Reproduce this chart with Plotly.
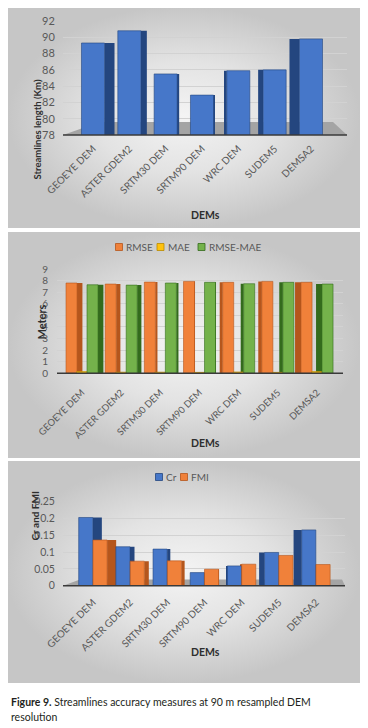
import plotly.graph_objects as go

# ---------------- data ----------------
categories = ["GEOEYE DEM", "ASTER GDEM2", "SRTM30 DEM", "SRTM90 DEM",
              "WRC DEM", "SUDEM5", "DEMSA2"]

streamlines_length_km = [89.3, 90.8, 85.5, 82.9, 85.9, 86.0, 89.8]

rmse = [7.79, 7.70, 7.87, 7.93, 7.85, 7.93, 7.85]
mae = [0.15, 0.10, 0.10, 0.08, 0.12, 0.08, 0.15]
rmse_minus_mae = [7.64, 7.61, 7.79, 7.85, 7.73, 7.85, 7.70]

cr = [0.203, 0.116, 0.109, 0.039, 0.059, 0.099, 0.166]
fmi = [0.136, 0.073, 0.074, 0.049, 0.064, 0.090, 0.063]

p1_yticks = [78, 80, 82, 84, 86, 88, 90, 92]
p2_yticks = [0, 1, 2, 3, 4, 5, 6, 7, 8, 9]
p3_yticks = [0, 0.05, 0.1, 0.15, 0.2, 0.25]
p3_yticktext = ["0", "0.05", "0.1", "0.15", "0.2", "0.25"]

# ---------------- layout helpers ----------------
W, H = 368, 728
OFF = 8  # page body margin: the figure starts 8px right/down of the page corner
FONT = "Lato"
TICK_COLOR = "#595959"
TITLE_COLOR = "#2e2e2e"


def px(x):
    """page pixel x -> paper fraction"""
    return (x - OFF) / W


def py(y):
    """page pixel y -> paper fraction"""
    return 1 - (y - OFF) / H


# pixel geometry (page coordinates) of each panel's plotting area
panels = {
    2: dict(x0=63, x1=347, c0=93, step=36.33, ytop=21, ybot=135, yr=[78, 92]),
    3: dict(x0=57, x1=343, c0=82, step=39.17, ytop=269, ybot=373.3, yr=[0, 9]),
    4: dict(x0=63, x1=345, c0=93, step=37.17, ytop=501.7, ybot=585.7, yr=[0, 0.25]),
}

# perspective of the 3-D side faces per category (+ = right face, - = left face)
persp = {
    2: [1.0, 0.6, 0.2, 0.05, -0.2, -0.5, -1.0],
    3: [0.9, 0.7, 0.35, 0.0, -0.5, -0.6, -1.0],
    4: [1.0, 0.5, 0.35, 0.0, -0.1, -0.6, -0.9],
}

fig = go.Figure()

# ---------------- panel backgrounds (gradient) on a hidden full-page axis ----------------
bg_boxes = [(8, 6, 360, 228), (8, 232, 360, 458), (6, 461, 360, 683)]
for (x0, y0, x1, y1) in bg_boxes:
    fig.add_trace(go.Scatter(
        x=[x0, x1, x1, x0, x0], y=[y0, y0, y1, y1, y0],
        mode="lines", line=dict(width=0), fill="toself",
        fillgradient=dict(type="radial",
                          colorscale=[[0, "#f4f4f4"], [0.5, "#e3e3e3"], [1, "#c6c6c6"]]),
        xaxis="x", yaxis="y", hoverinfo="skip", showlegend=False))


def add_series(panel, values, offset, width, side_max, front, side, name, part):
    ax = "x%d" % panel
    ay = "y%d" % panel
    if part == "side":
        offs, wids = [], []
        for p in persp[panel]:
            w = abs(p) * side_max
            offs.append(offset + width if p >= 0 else offset - w)
            wids.append(max(w, 0.0005))
        fig.add_trace(go.Bar(
            x=categories, y=values, xaxis=ax, yaxis=ay, offset=offs, width=wids,
            marker=dict(color=side, line=dict(width=0)), showlegend=False,
            hoverinfo="skip", name=name + " side"))
    else:
        fig.add_trace(go.Bar(
            x=categories, y=values, xaxis=ax, yaxis=ay, name=name,
            offset=[offset] * len(categories), width=[width] * len(categories),
            marker=dict(color=front, line=dict(width=0.6, color=side)),
            showlegend=False))


BLUE, BLUE_D = "#4677c9", "#24467f"
ORANGE, ORANGE_D = "#f0813a", "#b5561c"
YELLOW, YELLOW_D = "#ffc20e", "#b98a00"
GREEN, GREEN_D = "#74b24b", "#336b1c"

# panel 1
for part in ("side", "front"):
    add_series(2, streamlines_length_km, -0.317, 0.634, 0.275, BLUE, BLUE_D,
               "Streamlines length", part)

# panel 2
p2_series = [(rmse, -0.408, ORANGE, ORANGE_D, "RMSE"),
             (mae, -0.14, YELLOW, YELLOW_D, "MAE"),
             (rmse_minus_mae, 0.128, GREEN, GREEN_D, "RMSE-MAE")]
for part in ("side", "front"):
    for vals, off, c, cd, n in p2_series:
        add_series(3, vals, off, 0.281, 0.153, c, cd, n, part)

# panel 3
p3_series = [(cr, -0.385, BLUE, BLUE_D, "Cr"),
             (fmi, 0.0, ORANGE, ORANGE_D, "FMI")]
for part in ("side", "front"):
    for vals, off, c, cd, n in p3_series:
        add_series(4, vals, off, 0.38, 0.243, c, cd, n, part)

# ---------------- axes ----------------
layout = dict(
    width=W, height=H, autosize=False,
    margin=dict(l=0, r=0, t=0, b=0, pad=0),
    paper_bgcolor="white", plot_bgcolor="rgba(0,0,0,0)",
    barmode="overlay", showlegend=False,
    font=dict(family=FONT, color=TICK_COLOR),
    xaxis=dict(domain=[0, 1], range=[OFF, OFF + W], visible=False, fixedrange=True),
    yaxis=dict(domain=[0, 1], range=[OFF + H, OFF], visible=False, fixedrange=True),
)

ytick_cfg = {
    2: dict(tickvals=p1_yticks, ticktext=[str(v) for v in p1_yticks], size=11, len=5),
    3: dict(tickvals=p2_yticks, ticktext=[str(v) for v in p2_yticks], size=10, len=6),
    4: dict(tickvals=p3_yticks, ticktext=p3_yticktext, size=10.5, len=5),
}
xtick_len = {2: 3, 3: 9, 4: 6}
xtick_size = {2: 10, 3: 9.5, 4: 10}

for k, s in panels.items():
    xr = [(s["x0"] - s["c0"]) / s["step"], (s["x1"] - s["c0"]) / s["step"]]
    layout["xaxis%d" % k] = dict(
        domain=[px(s["x0"]), px(s["x1"])], anchor="y%d" % k, range=xr,
        type="category", showgrid=False, zeroline=False, showline=False,
        ticks="outside", ticklen=xtick_len[k], tickcolor="rgba(0,0,0,0)",
        tickangle=-45, automargin=False,
        tickfont=dict(size=xtick_size[k], color=TICK_COLOR, family=FONT),
        fixedrange=True)
    yc = ytick_cfg[k]
    layout["yaxis%d" % k] = dict(
        domain=[py(s["ybot"]), py(s["ytop"])], anchor="x%d" % k, range=s["yr"],
        tickmode="array", tickvals=yc["tickvals"], ticktext=yc["ticktext"],
        showgrid=True, gridcolor="#d2d2d2", gridwidth=1, zeroline=False,
        showline=False, ticks="outside", ticklen=yc["len"], automargin=False,
        tickcolor="rgba(0,0,0,0)",
        tickfont=dict(size=yc["size"], color=TICK_COLOR, family=FONT),
        fixedrange=True)

fig.update_layout(**layout)


# ---------------- floors (below bars), front edges and legend keys ----------------
def to_data(k, x, y):
    s = panels[k]
    xd = (x - s["c0"]) / s["step"]
    y0, y1 = s["yr"]
    yd = y0 + (s["ybot"] - y) / (s["ybot"] - s["ytop"]) * (y1 - y0)
    return xd, yd


floors = {
    2: [(63, 135), (347, 135), (333, 122), (100, 122)],
    4: [(63, 585.7), (345, 585.7), (342, 579.5), (80, 579.5)],
}
shapes = []
for k, pts in floors.items():
    d = [to_data(k, x, y) for x, y in pts]
    path = "M" + " L".join("%.5f,%.5f" % p for p in d) + " Z"
    shapes.append(dict(type="path", path=path, xref="x%d" % k, yref="y%d" % k,
                       fillcolor="#a4a4a4", line=dict(width=0), layer="below"))

for (x0, x1, y) in [(63, 347, 135), (57, 343, 373.3), (63, 345, 585.7)]:
    shapes.append(dict(type="line", xref="paper", yref="paper",
                       x0=px(x0), x1=px(x1), y0=py(y), y1=py(y),
                       line=dict(color="#3a3a3a", width=1.6), layer="above"))

# legend keys: (square left x, centre y, colour, edge colour, label)
legend_items = [
    (115.5, 247, ORANGE, ORANGE_D, "RMSE"),
    (157, 247, YELLOW, YELLOW_D, "MAE"),
    (198, 247, GREEN, GREEN_D, "RMSE-MAE"),
    (155.5, 477, BLUE, BLUE_D, "Cr"),
    (180.5, 477, ORANGE, ORANGE_D, "FMI"),
]
ann = []
for (lx, ly, c, cd, label) in legend_items:
    shapes.append(dict(type="rect", xref="paper", yref="paper",
                       x0=px(lx), x1=px(lx + 7), y0=py(ly + 3.5), y1=py(ly - 3.5),
                       fillcolor=c, line=dict(color=cd, width=0.8), layer="above"))
    ann.append(dict(text=label, x=px(lx + 8.5), y=py(ly), xref="paper", yref="paper",
                    xanchor="left", yanchor="middle", showarrow=False,
                    font=dict(size=10, color=TICK_COLOR, family=FONT)))
fig.update_layout(shapes=shapes)

# ---------------- titles and caption ----------------
ann.append(dict(text="<b>Streamlines length (Km)</b>", x=px(29), y=py(78),
                xref="paper", yref="paper", textangle=-90, showarrow=False,
                font=dict(size=9.5, color=TITLE_COLOR, family=FONT)))
ann.append(dict(text="<b>Meters</b>", x=px(32), y=py(322), xref="paper", yref="paper",
                textangle=-90, showarrow=False,
                font=dict(size=11, color=TITLE_COLOR, family=FONT)))
ann.append(dict(text="<b>Cr and FMI</b>", x=px(26), y=py(543), xref="paper", yref="paper",
                textangle=-90, showarrow=False,
                font=dict(size=10, color=TITLE_COLOR, family=FONT)))
for yy in (207, 443, 660):
    ann.append(dict(text="<b>DEMs</b>", x=px(205), y=py(yy), xref="paper", yref="paper",
                    showarrow=False, font=dict(size=10.5, color=TITLE_COLOR, family=FONT)))
ann.append(dict(text="<b>Figure 9.</b> Streamlines accuracy measures at 90 m resampled DEM",
                x=px(9), y=py(702), xref="paper", yref="paper", xanchor="left",
                yanchor="middle", align="left", showarrow=False,
                font=dict(size=10.5, color="#231f20", family=FONT)))
ann.append(dict(text="resolution",
                x=px(9), y=py(717), xref="paper", yref="paper", xanchor="left",
                yanchor="middle", align="left", showarrow=False,
                font=dict(size=10.5, color="#231f20", family=FONT)))
fig.update_layout(annotations=ann)

fig.write_html("out.html")
